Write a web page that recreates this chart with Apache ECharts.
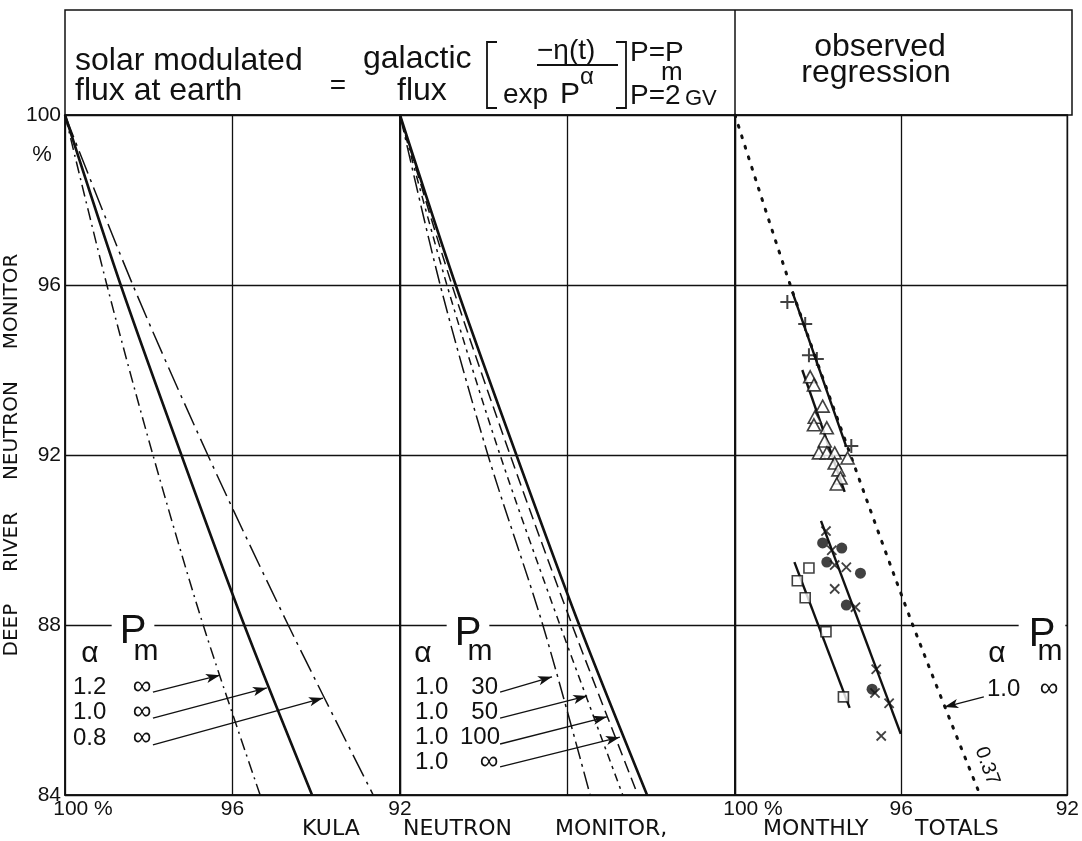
<!DOCTYPE html>
<html>
<head>
<meta charset="utf-8">
<script src="https://cdn.jsdelivr.net/npm/echarts@6.0.0/dist/echarts.min.js"></script>
<style>
  html, body { margin: 0; padding: 0; background: #fff; }
  #chart { width: 1082px; height: 841px; }
</style>
</head>
<body>
<div id="chart"></div>
<script>
// y levels (Deep River %) at which the theoretical curves were read
var yLevels = [100, 96, 92, 88, 84];

// panel 1: Pm = infinity, varying alpha (Kula %)
var curveA12 = [100, 99.0, 97.9, 96.7, 95.34];
var curveA10 = [100, 98.67, 97.22, 95.72, 94.1];
var curveA08 = [100, 98.38, 96.59, 94.67, 92.64];

// panel 2: alpha = 1.0, varying Pm
var curvePm30 = [100, 99.04, 97.9, 96.59, 95.46];
var curvePm50 = [100, 98.88, 97.61, 96.18, 94.68];
var curvePm100 = [100, 98.76, 97.37, 95.89, 94.32];
var curvePmInf = curveA10;

// panel 3: observed monthly totals [kula, deepRiver]
var plusPts = [[98.74, 95.6], [98.31, 95.08], [98.22, 94.35], [98.03, 94.26], [97.2, 92.21]];
var trianglePts = [[98.19, 93.84], [98.1, 93.65], [97.89, 93.15], [98.08, 92.89], [98.1, 92.71],
  [97.79, 92.64], [97.84, 92.33], [97.98, 92.05], [97.79, 92.05], [97.6, 92.05],
  [97.6, 91.81], [97.51, 91.65], [97.46, 91.46], [97.55, 91.32], [97.29, 91.93]];
var crossPts = [[97.81, 90.21], [97.67, 89.76], [97.6, 89.41], [97.32, 89.36], [97.6, 88.85],
  [97.1, 88.42], [96.6, 86.96], [96.63, 86.4], [96.29, 86.16], [96.48, 85.39]];
var dotPts = [[97.89, 89.93], [97.43, 89.81], [97.79, 89.48], [96.98, 89.22], [97.32, 88.47], [96.7, 86.49]];
var squarePts = [[98.22, 89.34], [98.5, 89.04], [98.31, 88.64], [97.81, 87.84], [97.39, 86.31]];

// regression lines [x1, y1, x2, y2]
var plusFit = [98.62, 95.84, 97.32, 92.19];
var triangleFit = [98.38, 94.0, 97.36, 91.13];
var crossFit = [97.93, 90.45, 96.01, 85.44];
var squareFit = [98.57, 89.48, 97.24, 86.05];

// pointer arrows [fromX, fromY, toX, toY]
var arrows1 = [[97.9, 86.42, 96.3, 86.82], [97.9, 85.81, 95.18, 86.52], [97.9, 85.18, 93.84, 86.28]];
var arrows2 = [[97.61, 86.42, 96.37, 86.78], [97.61, 85.81, 95.53, 86.33], [97.61, 85.2, 95.06, 85.84], [97.61, 84.66, 94.75, 85.36]];
var arrows3 = [[94.01, 86.31, 94.96, 86.07]];

var F = "'Liberation Sans', Arial, sans-serif";
var FD = "'DejaVu Sans', sans-serif";
var INK = '#111';

function pairs(xs) {
  return xs.map(function (x, i) { return [x, yLevels[i]]; });
}
function curve(idx, xs, width, dash) {
  return {
    type: 'line', xAxisIndex: idx, yAxisIndex: idx, data: pairs(xs),
    symbol: 'none', smooth: 0.3, silent: true, z: 3,
    lineStyle: { color: INK, width: width, type: dash || 'solid' }
  };
}
function fit(f) {
  return {
    type: 'line', xAxisIndex: 2, yAxisIndex: 2, data: [[f[0], f[1]], [f[2], f[3]]],
    symbol: 'none', silent: true, z: 3, lineStyle: { color: INK, width: 2.4 }
  };
}
function pointers(idx, list) {
  return {
    type: 'line', xAxisIndex: idx, yAxisIndex: idx, data: [], silent: true,
    markLine: {
      silent: true, animation: false, symbol: ['none', 'arrow'], symbolSize: [7, 14],
      label: { show: false },
      lineStyle: { color: INK, width: 1.3, type: 'solid' },
      data: list.map(function (a) { return [{ coord: [a[0], a[1]] }, { coord: [a[2], a[3]] }]; })
    }
  };
}
function pts(data, symbol, size, open, rotate) {
  return {
    type: 'scatter', xAxisIndex: 2, yAxisIndex: 2, data: data, symbol: symbol,
    symbolSize: size, symbolRotate: rotate || 0, z: 5, silent: true,
    itemStyle: open ? { color: '#fff', borderColor: INK, borderWidth: 1.6 } : { color: INK }
  };
}
function txt(x, y, s, size, align, extra) {
  var st = { text: s, font: size + 'px ' + F, fill: INK, align: align || 'left', verticalAlign: 'middle' };
  for (var k in extra) st[k] = extra[k];
  return { type: 'text', x: x, y: y, z: 10, style: st };
}
function seg(pts, w) {
  return { type: 'polyline', z: 10, shape: { points: pts }, style: { stroke: INK, lineWidth: w || 1.5, fill: null } };
}

var PLUS = 'path://M-1,-7L1,-7L1,-1L7,-1L7,1L1,1L1,7L-1,7L-1,1L-7,1L-7,-1L-1,-1Z';

var gridLine = { show: true, lineStyle: { color: INK, width: 1.3 } };
var axisLine = { show: true, lineStyle: { color: INK, width: 1.5 } };

function xAxis(idx, labels) {
  return {
    type: 'value', gridIndex: idx, min: 92, max: 100, interval: 4, inverse: true,
    axisLine: axisLine, axisTick: { show: false }, splitLine: gridLine,
    axisLabel: {
      show: labels, color: INK, fontSize: 21, fontFamily: F, margin: 4,
      formatter: function (v) { return v === 100 ? '{p|100 %}' : String(v); },
      rich: { p: { fontSize: 21, fontFamily: F, color: INK, padding: [0, 0, 0, 36] } }
    }
  };
}
function yAxis(idx, labels) {
  var a = {
    type: 'value', gridIndex: idx, min: 84, max: 100, interval: 4,
    axisLine: axisLine, axisTick: { show: false }, splitLine: gridLine,
    axisLabel: { show: labels, color: INK, fontSize: 21, fontFamily: F, margin: 4 }
  };
  if (labels) {
    a.name = 'DEEP     RIVER     NEUTRON     MONITOR';
    a.nameLocation = 'middle';
    a.nameRotate = 90;
    a.nameGap = 36;
    a.nameTextStyle = { color: INK, fontSize: 20, fontFamily: FD };
  }
  return a;
}

var chart = echarts.init(document.getElementById('chart'), null, { renderer: 'canvas' });

var graphics = [
  // header box
  { type: 'rect', z: 9, shape: { x: 65, y: 10, width: 1007, height: 105 }, style: { fill: null, stroke: INK, lineWidth: 1.5 } },
  seg([[735, 10], [735, 115]]),
  txt(75, 61, 'solar modulated', 32),
  txt(75, 91, 'flux at earth', 32),
  txt(338, 86, '=', 28, 'center'),
  txt(363, 59, 'galactic', 32),
  txt(397, 91, 'flux', 32),
  seg([[497, 42], [487, 42], [487, 108], [497, 108]], 1.8),
  txt(537, 51, '\u2212\u03b7(t)', 28),
  seg([[537, 65], [618, 65]], 2.2),
  txt(503, 95, 'exp', 28),
  txt(560, 95, 'P', 30),
  txt(580, 77, '\u03b1', 24),
  seg([[616, 42], [626, 42], [626, 108], [616, 108]], 1.8),
  txt(630, 53, 'P=P', 28),
  txt(661, 73, 'm', 26),
  txt(630, 96, 'P=2', 28),
  txt(685, 99, 'GV', 22),
  txt(880, 47, 'observed', 32, 'center'),
  txt(876, 73, 'regression', 32, 'center'),
  // y-axis unit
  txt(42, 155, '%', 22, 'center'),

  // panel 1 legend
  txt(90, 654, '\u03b1', 30, 'center'),
  txt(133, 632, 'P', 40, 'center', { backgroundColor: '#fff', padding: [0, 8] }),
  txt(146, 652, 'm', 30, 'center'),
  txt(73, 687, '1.2', 24), txt(142, 687, '\u221e', 26, 'center'),
  txt(73, 712, '1.0', 24), txt(142, 712, '\u221e', 26, 'center'),
  txt(73, 738, '0.8', 24), txt(142, 738, '\u221e', 26, 'center'),

  // panel 2 legend
  txt(423, 654, '\u03b1', 30, 'center'),
  txt(468, 634, 'P', 40, 'center', { backgroundColor: '#fff', padding: [0, 8] }),
  txt(480, 652, 'm', 30, 'center'),
  txt(415, 687, '1.0', 24), txt(498, 687, '30', 24, 'right'),
  txt(415, 712, '1.0', 24), txt(498, 712, '50', 24, 'right'),
  txt(415, 737, '1.0', 24), txt(500, 737, '100', 24, 'right'),
  txt(415, 762, '1.0', 24), txt(489, 762, '\u221e', 26, 'center'),

  // panel 3 legend
  txt(997, 654, '\u03b1', 30, 'center'),
  txt(1042, 635, 'P', 40, 'center', { backgroundColor: '#fff', padding: [0, 10] }),
  txt(1050, 652, 'm', 30, 'center'),
  txt(987, 689, '1.0', 24), txt(1049, 689, '\u221e', 26, 'center'),
  { type: 'text', x: 987, y: 766, z: 10, rotation: -1.22,
    style: { text: '0.37', font: '20px ' + F, fill: INK, align: 'center', verticalAlign: 'middle' } },

  // bottom captions
  txt(302, 829, 'KULA', 22, 'left', { font: '22px ' + FD }),
  txt(403, 829, 'NEUTRON', 22, 'left', { font: '22px ' + FD }),
  txt(555, 829, 'MONITOR,', 22, 'left', { font: '22px ' + FD }),
  txt(763, 829, 'MONTHLY', 22, 'left', { font: '22px ' + FD }),
  txt(915, 829, 'TOTALS', 22, 'left', { font: '22px ' + FD })
];

chart.setOption({
  animation: false,
  backgroundColor: '#fff',
  grid: [
    { left: 65, top: 115, width: 335, height: 680, show: true, borderColor: INK, borderWidth: 1.5 },
    { left: 400, top: 115, width: 335, height: 680, show: true, borderColor: INK, borderWidth: 1.5 },
    { left: 735, top: 115, width: 337, height: 680, show: true, borderColor: INK, borderWidth: 1.5 }
  ],
  xAxis: [xAxis(0, true), xAxis(1, false), xAxis(2, true)],
  yAxis: [yAxis(0, true), yAxis(1, false), yAxis(2, false)],
  series: [
    curve(0, curveA12, 1.5, [12, 5, 2, 5]),
    curve(0, curveA10, 2.6),
    curve(0, curveA08, 1.5, [24, 6, 3, 6]),
    pointers(0, arrows1),

    curve(1, curvePm30, 1.5, [18, 5, 3, 5]),
    curve(1, curvePm50, 1.5, [8, 5, 3, 5]),
    curve(1, curvePm100, 1.5, [12, 6]),
    curve(1, curvePmInf, 2.6),
    pointers(1, arrows2),

    Object.assign(curve(2, curvePmInf, 3, [2, 9]), { lineStyle: { color: INK, width: 3, type: [2, 9], cap: 'round' } }),
    pointers(2, arrows3),
    fit(plusFit), fit(triangleFit), fit(crossFit), fit(squareFit),
    pts(plusPts, PLUS, 14, false),
    pts(trianglePts, 'triangle', [13, 12], true),
    pts(crossPts, PLUS, 13, false, 45),
    pts(dotPts, 'circle', 11, false),
    pts(squarePts, 'rect', 10, true)
  ],
  graphic: graphics
});
</script>
</body>
</html>
